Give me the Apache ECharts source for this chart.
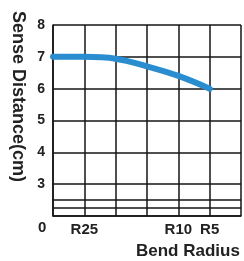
<!DOCTYPE html>
<html><head><meta charset="utf-8">
<script src="https://cdn.jsdelivr.net/npm/echarts@6/dist/echarts.min.js"></script>
<style>html,body{margin:0;padding:0;background:#fff}#c{width:244px;height:261px}</style>
</head><body><div id="c"></div>
<script>
// data
var xPositions = [0, 1, 2, 3, 4, 5];
var senseDistance = [7.0, 7.0, 6.94, 6.7, 6.4, 6.0];
var xTickLabels = {1: 'R25', 4: 'R10', 5: 'R5'};
var yTicks = [3, 4, 5, 6, 7, 8];
var extraLines = [2.25, 2.5];
var yTitle = 'Sense Distance(cm)';
var xTitle = 'Bend Radius';
var originLabel = '0';

var chart = echarts.init(document.getElementById('c'), null, {renderer: 'canvas'});
var gridColor = '#141414';
var fam = 'Liberation Sans';
function txt(s, size, f) {
  return {text: s, fontFamily: f || fam, fontWeight: 'bold', fontSize: size, fill: '#222'};
}
chart.setOption({
  animation: false,
  grid: {left: 53, top: 25, bottom: 45, right: -2},
  xAxis: {
    type: 'value', min: 0, max: 6, interval: 1,
    axisLine: {show: true, lineStyle: {color: gridColor, width: 1.5}},
    axisTick: {show: false},
    splitLine: {show: true, lineStyle: {color: gridColor, width: 1.5}},
    axisLabel: {
      color: '#222', fontWeight: 'bold', fontSize: 15, fontFamily: fam, margin: 6,
      formatter: function (v) { return xTickLabels[v] || ''; }
    }
  },
  yAxis: {
    type: 'value', min: 2, max: 8, interval: 1,
    axisLine: {show: true, lineStyle: {color: gridColor, width: 1.5}},
    axisTick: {show: false},
    splitLine: {show: true, lineStyle: {color: gridColor, width: 1.5}},
    axisLabel: {
      color: '#222', fontWeight: 'bold', fontSize: 14, fontFamily: fam, margin: 8,
      formatter: function (v) { return yTicks.indexOf(v) >= 0 ? String(v) : ''; }
    }
  },
  series: [{
    type: 'line',
    data: xPositions.map(function (x, i) { return [x, senseDistance[i]]; }),
    smooth: 0.4,
    showSymbol: false,
    lineStyle: {color: '#2a8dcf', width: 6, cap: 'round'},
    markLine: {
      silent: true, symbol: ['none', 'none'], label: {show: false},
      lineStyle: {color: gridColor, width: 1.5, type: 'solid'},
      data: extraLines.map(function (v) { return {yAxis: v}; })
    }
  }],
  graphic: [
    {type: 'text', left: 38, top: 220, style: txt(originLabel, 15)},
    {type: 'text', left: 136, top: 243, style: txt(xTitle, 17)},
    {type: 'text', x: 9, y: 11, rotation: -Math.PI / 2,
     style: Object.assign(txt(yTitle, 18, 'Arial, sans-serif'), {align: 'left', verticalAlign: 'bottom'})}
  ]
});
</script></body></html>
